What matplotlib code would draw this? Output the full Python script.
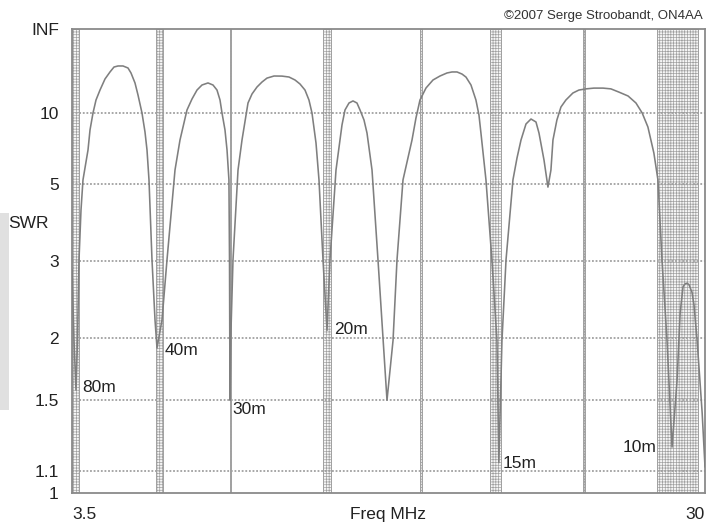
import numpy as np
import matplotlib
matplotlib.use("Agg")
import matplotlib.pyplot as plt
from matplotlib.patches import Rectangle

plt.rcParams['font.family'] = ['Liberation Sans', 'DejaVu Sans']
plt.rcParams['hatch.linewidth'] = 0.5

# ---- data ----
freq_mhz = [3.50, 3.584, 3.667, 3.73, 3.793, 3.877, 3.96, 4.17, 4.254, 4.379,
            4.505, 4.672, 4.881, 5.091, 5.258, 5.426, 5.635, 5.844, 5.97, 6.137,
            6.263, 6.43, 6.556, 6.64, 6.723, 6.849, 6.975, 7.058, 7.268, 7.477,
            7.686, 7.812, 8.021, 8.314, 8.524, 8.733, 8.942, 9.193, 9.403, 9.57,
            9.696, 9.78, 9.905, 9.99, 10.07, 10.094, 10.114, 10.156, 10.24, 10.45,
            10.617, 10.868, 11.036, 11.245, 11.454, 11.663, 11.957, 12.29, 12.584, 12.836,
            13.045, 13.254, 13.42, 13.547, 13.715, 13.84, 14.008, 14.176, 14.30, 14.552,
            14.719, 14.803, 14.929, 15.096, 15.264, 15.43, 15.557, 15.724, 15.85, 16.06,
            16.31, 16.52, 16.687, 16.94, 17.106, 17.357, 17.734, 17.9, 18.068, 18.32,
            18.613, 18.906, 19.199, 19.408, 19.618, 19.827, 19.994, 20.203, 20.41, 20.537,
            20.62, 20.83, 21.08, 21.29, 21.37, 21.50, 21.67, 21.96, 22.129, 22.297,
            22.506, 22.715, 22.924, 23.05, 23.26, 23.425, 23.55, 23.635, 23.8, 23.97,
            24.177, 24.47, 24.72, 25.02, 25.35, 25.73, 26.06, 26.4, 26.78, 27.11,
            27.37, 27.61, 27.86, 28.03, 28.20, 28.41, 28.62, 28.83, 28.96, 29.08,
            29.16, 29.25, 29.33, 29.46, 29.54, 29.67, 29.88, 30.0]
swr = [2.85, 1.98, 1.57, 1.98, 3.02, 4.13, 5.15, 6.67, 8.19, 10.05,
       12.07, 14.2, 17.56, 20.6, 23.4, 24.1, 24.1, 22.8, 20.1, 16.2,
       13.06, 10.05, 8.01, 6.67, 5.15, 3.02, 2.19, 1.91, 2.19, 3.02,
       4.33, 5.58, 7.36, 10.46, 12.26, 14.2, 15.57, 16.2, 15.57, 14.2,
       12.07, 10.05, 8.19, 6.67, 5.15, 3.02, 1.50, 2.08, 3.02, 5.58,
       7.36, 11.54, 13.28, 15.0, 16.5, 17.9, 18.74, 18.7, 18.33, 17.2,
       15.87, 14.2, 12.07, 10.05, 7.14, 5.15, 3.02, 2.08, 3.02, 5.58,
       7.36, 8.67, 10.46, 11.54, 11.9, 11.54, 10.46, 9.20, 7.92, 5.58,
       3.02, 2.01, 1.50, 1.98, 3.02, 5.15, 7.36, 9.43, 12.07, 14.73,
       17.2, 18.74, 20.1, 20.6, 20.6, 19.6, 18.3, 15.57, 12.07, 9.79,
       7.92, 5.15, 3.02, 1.98, 1.14, 1.98, 3.02, 5.15, 6.19, 7.36,
       8.77, 9.31, 8.98, 7.92, 6.08, 4.87, 5.58, 7.36, 9.2, 10.9,
       12.07, 13.5, 14.2, 14.5, 14.7, 14.7, 14.5, 13.7, 12.85, 11.54,
       10.05, 8.47, 6.48, 5.15, 3.02, 1.98, 1.22, 1.64, 2.27, 2.60,
       2.64, 2.65, 2.63, 2.52, 2.36, 1.98, 1.42, 1.12]

band_names = ['80m', '40m', '30m', '20m', '17m', '15m', '12m', '10m']
band_lo = [3.5, 7.0, 10.1, 14.0, 18.068, 21.0, 24.89, 28.0]
band_hi = [3.8, 7.3, 10.15, 14.35, 18.168, 21.45, 24.99, 29.7]

label_names = ['80m', '40m', '30m', '20m', '15m', '10m']
label_freq = [3.92, 7.39, 10.2, 14.47, 21.54, 27.95]
label_swr = [1.585, 1.89, 1.436, 2.09, 1.138, 1.22]
label_ha = ['left', 'left', 'left', 'left', 'left', 'right']

ytick_vals = [1, 1.1, 1.5, 2, 3, 5, 10, 1e6]
ytick_labels = ['1', '1.1', '1.5', '2', '3', '5', '10', 'INF']
grid_vals = [1.1, 1.5, 2, 3, 5, 10]
xtick_vals = [3.5, 30]
xtick_labels = ['3.5', '30']


def fwd(s):
    s = np.asarray(s, dtype=float)
    return (s - 1.0) / (s + 1.0)


def inv(g):
    g = np.asarray(g, dtype=float)
    with np.errstate(divide='ignore', invalid='ignore'):
        return (1.0 + g) / (1.0 - g)


W, H = 716, 522
fig = plt.figure(figsize=(W / 100, H / 100), dpi=100)
ax = fig.add_axes([72 / W, (H - 493) / H, (705 - 72) / W, (493 - 29) / H])

ax.set_yscale('function', functions=(fwd, inv))
ax.set_xlim(3.5, 30)
ax.set_ylim(1, 1e6)

# bands
for lo, hi in zip(band_lo, band_hi):
    ax.axvspan(lo, hi, facecolor='#f6f6f6', edgecolor='#a0a0a0', hatch='++++++',
               linewidth=0.7, zorder=1)

# grid lines
for g in grid_vals:
    ax.axhline(g, color='#a0a0a0', linewidth=1.3, linestyle=(0, (1, 1)), zorder=2)

ax.plot(freq_mhz, swr, color='#7f7f7f', linewidth=1.15, zorder=3)

for sp in ax.spines.values():
    sp.set_color('#8a8a8a')
    sp.set_linewidth(1.3)

ax.set_yticks(ytick_vals, ytick_labels)
ax.yaxis.set_minor_locator(matplotlib.ticker.NullLocator())
ax.set_xticks(xtick_vals, xtick_labels)
ax.tick_params(axis='both', length=0, labelsize=12.5, colors='#222222')
ax.tick_params(axis='y', pad=9.5)
ax.tick_params(axis='x', pad=10)
xl = ax.get_xticklabels()
xl[0].set_ha('left')
xl[-1].set_ha('right')

for name, f, s, ha in zip(label_names, label_freq, label_swr, label_ha):
    ax.text(f, s, name, ha=ha, va='center', fontsize=12.5, color='#222222', zorder=4)

ax.text(0.5, -0.047, 'Freq MHz', transform=ax.transAxes, ha='center', va='center',
        fontsize=12.5, color='#222222')

fig.patches.append(Rectangle((0, 1 - 410 / H), 9 / W, (410 - 213) / H,
                             transform=fig.transFigure, facecolor='#e0e0e0',
                             edgecolor='none', zorder=0))
fig.text(8 / W, 1 - 223 / H, 'SWR', ha='left', va='center', fontsize=12.5, color='#222222')
fig.text(703 / W, 1 - 16 / H, '\u00a92007 Serge Stroobandt, ON4AA', ha='right', va='center',
         fontsize=9.5, color='#333333')

fig.savefig('out.png', dpi=100)
